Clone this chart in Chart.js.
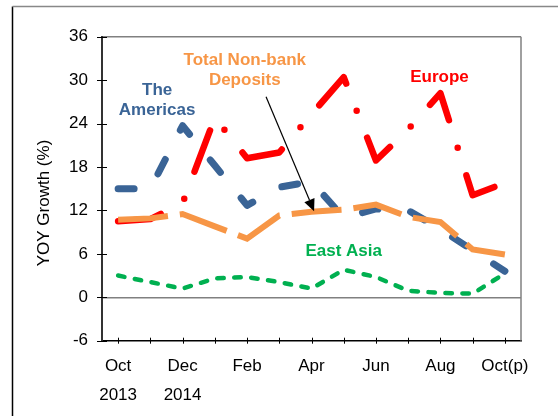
<!DOCTYPE html>
<html>
<head>
  <meta charset="UTF-8">
  <title>YOY Growth – Non-bank Deposits</title>
  <script src="https://cdn.jsdelivr.net/npm/chart.js"></script>
  <style>
    html, body { margin: 0; padding: 0; background: #fff; }
    canvas { display: block; }
  </style>
</head>
<body>
  <canvas id="growthChart" width="558" height="416"></canvas>

  <script>
    // data (YOY growth, %)
    const months = ['Oct','Nov','Dec','Jan','Feb','Mar','Apr','May','Jun','Jul','Aug','Sep','Oct(p)'];
    const years  = ['2013','','2014','','','','','','','','','',''];
    const americas = [15.0, 15.0, 23.7, 18.2, 12.7, 15.2, 16.0, 11.0, 12.2, 12.0, 9.4, 6.5, 3.6];
    const europe   = [10.5, 10.8, 13.0, 24.8, 19.2, 20.0, 25.3, 30.4, 18.9, 23.2, 28.2, 14.1, 15.8];
    const nonbank  = [10.7, 10.9, 11.5, 9.8, 8.1, 11.3, 11.8, 12.1, 12.8, 11.1, 10.4, 6.6, 5.9];
    const eastAsia = [3.0, 2.1, 1.2, 2.6, 2.8, 2.1, 1.2, 3.8, 2.8, 0.9, 0.6, 0.5, 3.3];
    const yTicks = { min: -6, max: 36, step: 6 };

    const FONT = "'Liberation Sans', Arial, sans-serif";
    const BLUE = '#3a6496', RED = '#ff0000', ORANGE = '#f79646', GREEN = '#00b050';

    // labels placed in data units: [x index, y value]
    const notes = [
      { lines: ['Total Non-bank', 'Deposits'], at: [3.93, 32.8], color: ORANGE },
      { lines: ['The', 'Americas'], at: [1.21, 28.6], color: BLUE },
      { lines: ['Europe'], at: [9.97, 30.4], color: RED },
      { lines: ['East Asia'], at: [7.0, 6.3], color: GREEN }
    ];
    const arrow = { from: [4.59, 27.7], to: [6.08, 11.9] };

    const extras = {
      id: 'extras',
      beforeDraw(chart) {
        const c = chart.ctx;
        c.save();
        c.fillStyle = '#fff';
        c.fillRect(0, 0, chart.width, chart.height);
        // page frame
        c.lineWidth = 1.5;
        c.strokeStyle = '#000';
        c.beginPath(); c.moveTo(12.5, 416); c.lineTo(12.5, 6.5); c.stroke();
        c.strokeStyle = '#888';
        c.beginPath(); c.moveTo(12.5, 6.5); c.lineTo(558, 6.5); c.stroke();
        c.restore();
      },
      afterDatasetsDraw(chart) {
        const c = chart.ctx, xs = chart.scales.x, ys = chart.scales.y;
        c.save();
        c.font = 'bold 17px ' + FONT;
        c.textAlign = 'center';
        c.textBaseline = 'middle';
        notes.forEach(n => {
          const px = xs.getPixelForValue(n.at[0]);
          const py = ys.getPixelForValue(n.at[1]);
          c.fillStyle = n.color;
          n.lines.forEach((t, k) => c.fillText(t, px, py + k * 20));
        });
        // arrow
        const x1 = xs.getPixelForValue(arrow.from[0]), y1 = ys.getPixelForValue(arrow.from[1]);
        const x2 = xs.getPixelForValue(arrow.to[0]), y2 = ys.getPixelForValue(arrow.to[1]);
        const a = Math.atan2(y2 - y1, x2 - x1);
        const hl = 12, hw = 5.5;
        const bx = x2 - hl * Math.cos(a), by = y2 - hl * Math.sin(a);
        c.strokeStyle = '#000';
        c.lineWidth = 1.2;
        c.beginPath(); c.moveTo(x1, y1); c.lineTo(bx, by); c.stroke();
        c.fillStyle = '#000';
        c.beginPath();
        c.moveTo(x2, y2);
        c.lineTo(bx + hw * Math.sin(a), by - hw * Math.cos(a));
        c.lineTo(bx - hw * Math.sin(a), by + hw * Math.cos(a));
        c.closePath(); c.fill();
        c.restore();
      },
      afterDraw(chart) {
        const c = chart.ctx, xs = chart.scales.x, ys = chart.scales.y, area = chart.chartArea;
        c.save();
        // right border of plot
        c.strokeStyle = '#808080';
        c.lineWidth = 1.5;
        c.beginPath(); c.moveTo(area.right, area.top); c.lineTo(area.right, area.bottom); c.stroke();
        // tick marks crossing the axes
        c.strokeStyle = '#000';
        c.lineWidth = 1;
        xs.ticks.forEach((t, i) => {
          const px = Math.round(xs.getPixelForTick(i)) + 0.5;
          c.beginPath(); c.moveTo(px, area.bottom - 3); c.lineTo(px, area.bottom + 3); c.stroke();
        });
        ys.ticks.forEach(t => {
          const py = Math.round(ys.getPixelForValue(t.value)) + 0.5;
          c.beginPath(); c.moveTo(area.left - 5, py); c.lineTo(area.left + 5, py); c.stroke();
        });
        // y axis title
        c.fillStyle = '#000';
        c.font = '17px ' + FONT;
        c.textAlign = 'center';
        c.textBaseline = 'middle';
        c.translate(44, 203);
        c.rotate(-Math.PI / 2);
        c.fillText('YOY Growth (%)', 0, 0);
        c.restore();
      }
    };

    function render() {
      const ctx = document.getElementById('growthChart').getContext('2d');
      new Chart(ctx, {
        type: 'line',
        data: {
          labels: months,
          datasets: [
            { label: 'The Americas', data: americas, borderColor: BLUE, borderWidth: 7,
              borderDash: [16, 33], borderCapStyle: 'round', borderJoinStyle: 'round', order: 4 },
            { label: 'Europe', data: europe, borderColor: RED, borderWidth: 6.5,
              borderDash: [44, 29, 0, 29], borderCapStyle: 'round', borderJoinStyle: 'round', order: 3 },
            { label: 'Total Non-bank Deposits', data: nonbank, borderColor: ORANGE, borderWidth: 6,
              borderDash: [50, 12], borderCapStyle: 'butt', borderJoinStyle: 'miter', order: 2 },
            { label: 'East Asia', data: eastAsia, borderColor: GREEN, borderWidth: 4.5,
              borderDash: [6.5, 10.5], borderCapStyle: 'round', borderJoinStyle: 'round', order: 1 }
          ]
        },
        options: {
          responsive: false,
          animation: false,
          devicePixelRatio: 1,
          elements: { point: { radius: 0, hoverRadius: 0 }, line: { tension: 0, fill: false } },
          layout: { padding: { left: 0, right: 37, top: 36.7, bottom: 0 } },
          plugins: { legend: { display: false }, tooltip: { enabled: false } },
          scales: {
            x: {
              offset: true,
              grid: { display: false, drawTicks: false },
              border: { display: true, color: '#000', width: 1.5 },
              ticks: {
                autoSkip: false, maxRotation: 0, minRotation: 0, padding: 11, color: '#000',
                font: { family: FONT, size: 17, lineHeight: 1.7 },
                callback: (v, i) => (i % 2 ? '' : [months[i], years[i]])
              },
              afterFit: s => { s.height = 416 - 340.7; }
            },
            y: {
              min: yTicks.min, max: yTicks.max,
              grid: {
                drawTicks: false, lineWidth: 1.5,
                color: c => (c.tick && (c.tick.value === 0 || c.tick.value === yTicks.max)) ? '#808080' : 'rgba(0,0,0,0)'
              },
              border: { display: true, color: '#333', width: 2 },
              ticks: { stepSize: yTicks.step, padding: 14, color: '#000', font: { family: FONT, size: 17 } },
              afterFit: s => { s.width = 102; }
            }
          }
        },
        plugins: [extras]
      });
    }

    window.onload = render;
  </script>
</body>
</html>
